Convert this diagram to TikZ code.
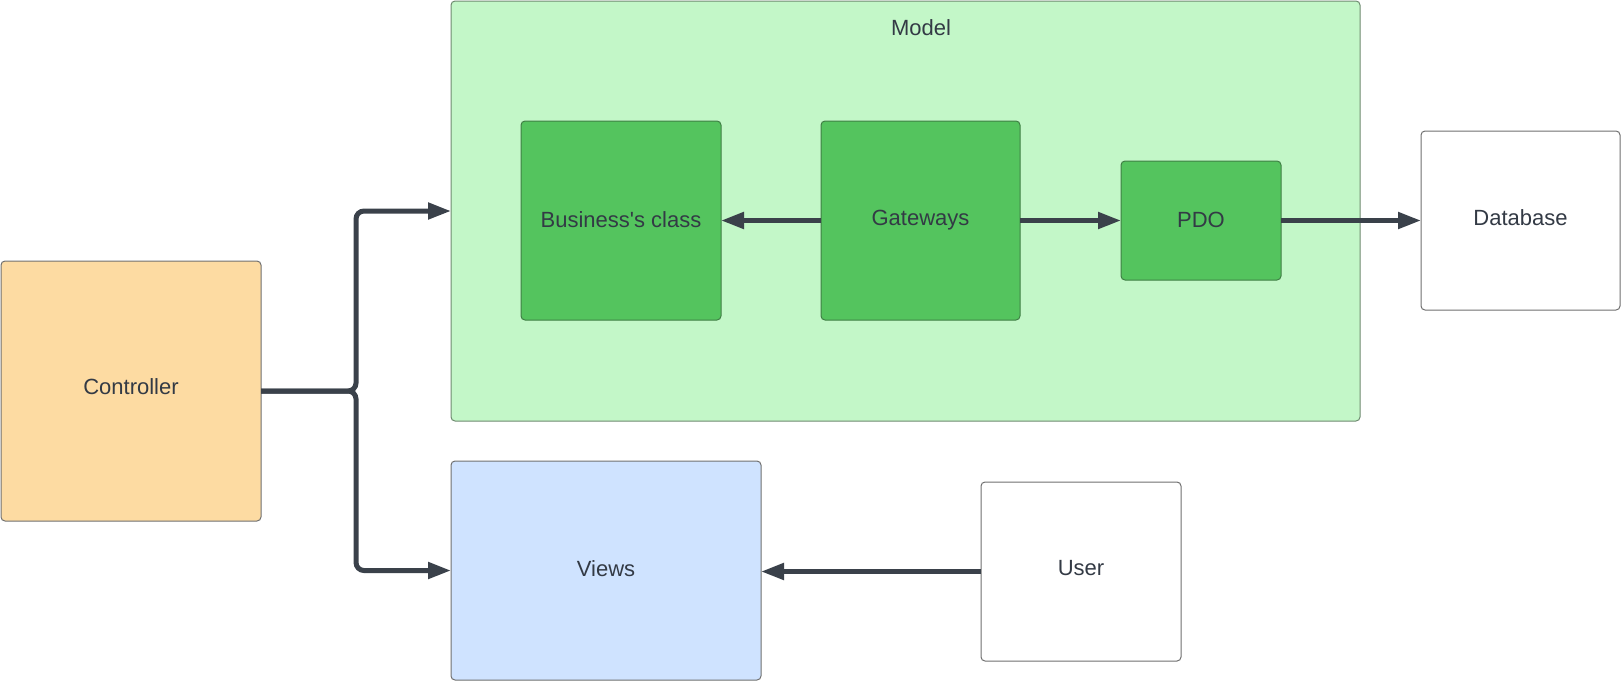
\documentclass[tikz,border=0pt]{standalone}
\usepackage{fontspec}
\setmainfont{Liberation Sans}[Ligatures=TeXOff]
\usetikzlibrary{arrows.meta}
\definecolor{txt}{HTML}{333A45}
\definecolor{arr}{HTML}{3A414A}
\definecolor{modelfill}{HTML}{C3F7C8}
\definecolor{modeldraw}{HTML}{6E8A70}
\definecolor{inner}{HTML}{54C45E}
\definecolor{innerdraw}{HTML}{3F7F45}
\definecolor{ctrlfill}{HTML}{FDDBA2}
\definecolor{viewfill}{HTML}{CFE3FF}
\definecolor{boxdraw}{HTML}{707070}
\tikzset{
  box/.style={rectangle, rounded corners=4pt, line width=1pt, draw=boxdraw, outer sep=0pt, inner sep=0pt,
    text=txt, font=\fontsize{22}{26}\selectfont, align=center},
  innerbox/.style={box, fill=inner, draw=innerdraw},
  conn/.style={draw=arr, line width=5pt, -{Triangle[length=23pt,width=16pt]}},
}
\begin{document}
\begin{tikzpicture}[x=1pt,y=-1pt]
\useasboundingbox (0,0) rectangle (1621,681);
\node[box, fill=ctrlfill, minimum width=260pt, minimum height=260pt, text depth=8pt] (ctrl) at (131,391) {Controller};
\node[box, fill=modelfill, draw=modeldraw, minimum width=909pt, minimum height=420pt] (model) at (905.5,211) {};
\node[text=txt, font=\fontsize{22}{26}\selectfont] (modellabel) at (921,28) {Model};
\node[box, fill=viewfill, minimum width=310pt, minimum height=219pt, text depth=4pt] (views) at (606,570.5) {Views};
\node[innerbox, minimum width=200pt, minimum height=199pt, text depth=2pt] (bc) at (621,220.5) {Business's class};
\node[innerbox, minimum width=199pt, minimum height=199pt] (gw) at (920.5,220.5) {Gateways};
\node[innerbox, minimum width=160pt, minimum height=119pt, text depth=2pt] (pdo) at (1201,220.5) {PDO};
\node[box, fill=white, minimum width=199pt, minimum height=179pt, text depth=6pt] (db) at (1520.5,220.5) {Database};
\node[box, fill=white, minimum width=200pt, minimum height=179pt, text depth=8pt] (user) at (1081,571.5) {User};
\coordinate (j) at (356,391);
\draw[conn, rounded corners=8pt] (ctrl.east) -- (j) |- (model.west);
\draw[conn, rounded corners=8pt] (ctrl.east) -- (j) |- (views.west);
\draw[conn] (gw.west) -- (bc.east);
\draw[conn] (gw.east) -- (pdo.west);
\draw[conn] (pdo.east) -- (db.west);
\draw[conn] (user.west) -- (views.east |- user.west);
\end{tikzpicture}
\end{document}
